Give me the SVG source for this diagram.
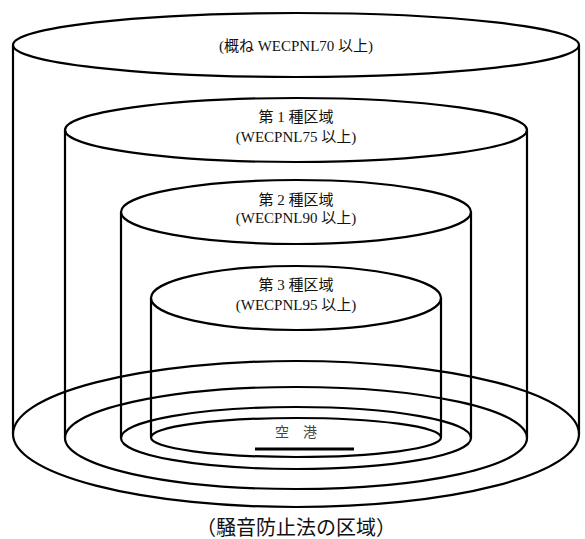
<svg xmlns="http://www.w3.org/2000/svg" width="585" height="539" viewBox="0 0 585 539">
<style>
.s{fill:none;stroke:#000;stroke-width:2.2}
.t{font-family:"Liberation Serif","Noto Sans CJK JP",serif;font-size:15px;fill:#111;text-anchor:middle}
.a{font-family:"Liberation Serif","Noto Sans CJK JP",serif;font-size:14px;fill:#444;text-anchor:middle}
.b{font-family:"Liberation Serif","Noto Sans CJK JP",serif;font-size:20px;fill:#111;text-anchor:middle}
</style>
<rect width="585" height="539" fill="#fff"/>
<g id="zone-70">
<ellipse class="s" cx="296" cy="45" rx="283" ry="32"/>
<line class="s" x1="13" y1="45" x2="13" y2="434"/>
<line class="s" x1="579" y1="45" x2="579" y2="434"/>
<ellipse class="s" cx="296" cy="434" rx="283" ry="73"/>
<text class="t" x="296" y="51">(概ね WECPNL70 以上)</text>
</g>
<g id="zone-1">
<ellipse class="s" cx="296" cy="130" rx="231" ry="32"/>
<line class="s" x1="65" y1="130" x2="65" y2="438"/>
<line class="s" x1="527" y1="130" x2="527" y2="438"/>
<ellipse class="s" cx="296" cy="438" rx="231" ry="51"/>
<text class="t" x="296" y="122">第 1 種区域</text>
<text class="t" x="296" y="142">(WECPNL75 以上)</text>
</g>
<g id="zone-2">
<ellipse class="s" cx="296" cy="212" rx="175" ry="32"/>
<line class="s" x1="121" y1="212" x2="121" y2="438"/>
<line class="s" x1="471" y1="212" x2="471" y2="438"/>
<ellipse class="s" cx="296" cy="438" rx="175" ry="31"/>
<text class="t" x="296" y="205">第 2 種区域</text>
<text class="t" x="296" y="223">(WECPNL90 以上)</text>
</g>
<g id="zone-3">
<ellipse class="s" cx="296" cy="298" rx="145" ry="32"/>
<line class="s" x1="151" y1="298" x2="151" y2="437.5"/>
<line class="s" x1="441" y1="298" x2="441" y2="437.5"/>
<ellipse class="s" cx="296" cy="437.5" rx="145" ry="19.5"/>
<text class="t" x="296" y="290">第 3 種区域</text>
<text class="t" x="296" y="310">(WECPNL95 以上)</text>
</g>
<g id="airport">
<text class="a" x="296" y="437">空　港</text>
<line x1="255" y1="449" x2="354" y2="449" stroke="#000" stroke-width="3"/>
</g>
<g id="caption">
<text class="b" x="296" y="535">（騒音防止法の区域）</text>
</g>
<g id="connectors"/>
</svg>
